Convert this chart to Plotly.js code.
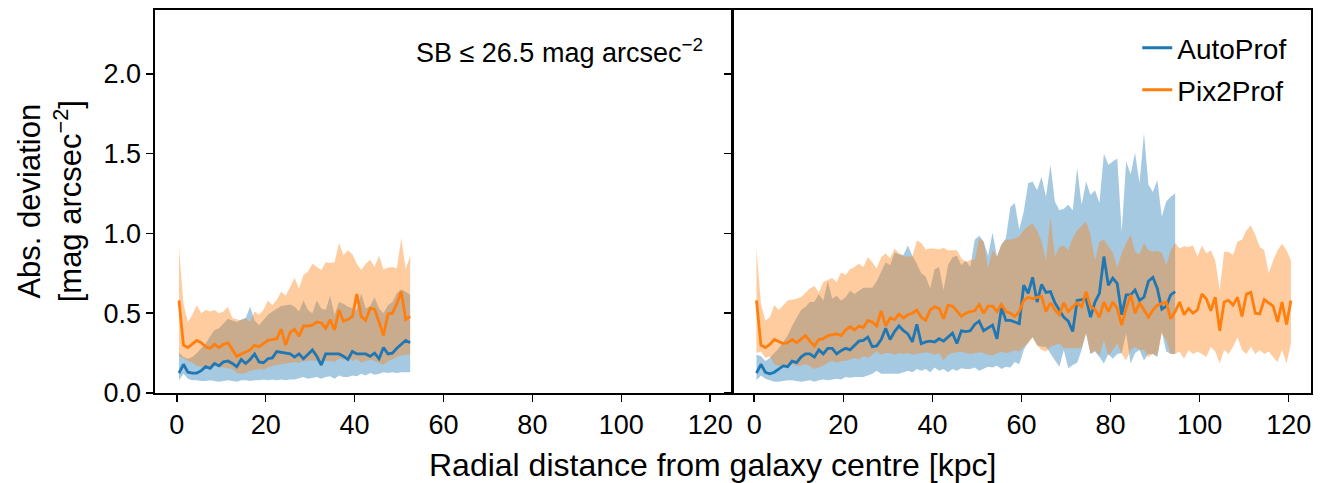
<!DOCTYPE html>
<html>
<head>
<meta charset="utf-8">
<script src="https://cdn.plot.ly/plotly-3.0.1.min.js"></script>
<style>html,body{margin:0;padding:0;background:#fff;}#chart{width:1324px;height:483px;}</style>
</head>
<body>
<div id="chart"></div>
<script>
// Radial bins [kpc]
const radius = [0.5,1.5,2.5,3.5,4.5,5.5,6.5,7.5,8.5,9.5,10.5,11.5,12.5,13.5,14.5,15.5,16.5,17.5,18.5,19.5,
20.5,21.5,22.5,23.5,24.5,25.5,26.5,27.5,28.5,29.5,30.5,31.5,32.5,33.5,34.5,35.5,36.5,37.5,38.5,39.5,
40.5,41.5,42.5,43.5,44.5,45.5,46.5,47.5,48.5,49.5,50.5,51.5,52.5,53.5,54.5,55.5,56.5,57.5,58.5,59.5,
60.5,61.5,62.5,63.5,64.5,65.5,66.5,67.5,68.5,69.5,70.5,71.5,72.5,73.5,74.5,75.5,76.5,77.5,78.5,79.5,
80.5,81.5,82.5,83.5,84.5,85.5,86.5,87.5,88.5,89.5,90.5,91.5,92.5,93.5,94.5,95.5,96.5,97.5,98.5,99.5,
100.5,101.5,102.5,103.5,104.5,105.5,106.5,107.5,108.5,109.5,110.5,111.5,112.5,113.5,114.5,115.5,116.5,117.5,118.5,119.5,120.5];

// ---- Left panel: SB <= 26.5 mag arcsec^-2 (53 bins) ----
const autoMedL = [0.125,0.18,0.13,0.125,0.125,0.14,0.165,0.155,0.185,0.17,0.195,0.20,0.185,0.165,0.21,0.185,0.21,0.245,0.195,0.19,0.215,0.22,0.26,0.255,0.25,0.245,
0.225,0.245,0.215,0.245,0.27,0.23,0.175,0.245,0.245,0.245,0.245,0.23,0.21,0.26,0.245,0.245,0.245,0.23,0.25,0.215,0.285,0.245,0.25,0.28,0.305,0.33,0.315];
const autoHiL = [0.25,0.225,0.215,0.225,0.25,0.28,0.31,0.355,0.395,0.405,0.435,0.465,0.455,0.445,0.46,0.47,0.54,0.455,0.425,0.46,0.49,0.51,0.525,0.545,0.55,0.555,
0.54,0.51,0.58,0.52,0.50,0.58,0.53,0.52,0.61,0.49,0.57,0.56,0.54,0.53,0.52,0.625,0.53,0.545,0.60,0.53,0.50,0.55,0.57,0.625,0.65,0.635,0.615];
const autoLoL = [0.08,0.12,0.09,0.08,0.08,0.075,0.075,0.08,0.075,0.07,0.075,0.08,0.075,0.07,0.08,0.08,0.075,0.08,0.08,0.085,0.08,0.085,0.08,0.085,0.08,0.085,
0.085,0.09,0.10,0.09,0.095,0.10,0.09,0.10,0.105,0.09,0.11,0.10,0.10,0.11,0.105,0.12,0.11,0.125,0.115,0.12,0.13,0.125,0.13,0.125,0.13,0.13,0.13];
const pixMedL = [0.58,0.30,0.285,0.31,0.33,0.315,0.29,0.28,0.305,0.285,0.305,0.315,0.27,0.23,0.245,0.26,0.27,0.30,0.29,0.31,0.33,0.335,0.34,0.40,0.30,0.38,
0.40,0.355,0.42,0.42,0.425,0.445,0.44,0.405,0.46,0.395,0.52,0.45,0.46,0.48,0.62,0.48,0.455,0.53,0.525,0.445,0.36,0.495,0.50,0.56,0.635,0.46,0.48];
const pixHiL = [0.906,0.56,0.445,0.49,0.55,0.50,0.52,0.51,0.52,0.50,0.51,0.54,0.47,0.46,0.455,0.47,0.445,0.51,0.49,0.52,0.58,0.55,0.585,0.635,0.61,0.665,
0.72,0.655,0.74,0.76,0.81,0.79,0.77,0.82,0.815,0.82,0.94,0.865,0.895,0.87,0.81,0.77,0.81,0.835,0.79,0.86,0.775,0.785,0.79,0.78,0.97,0.775,0.86];
const pixLoL = [0.23,0.22,0.20,0.19,0.17,0.165,0.16,0.165,0.17,0.165,0.16,0.155,0.15,0.125,0.12,0.125,0.14,0.145,0.15,0.145,0.16,0.17,0.175,0.18,0.185,0.19,
0.195,0.19,0.20,0.20,0.205,0.20,0.195,0.20,0.20,0.195,0.215,0.21,0.22,0.20,0.215,0.19,0.20,0.21,0.20,0.19,0.175,0.20,0.21,0.225,0.235,0.24,0.24];

// ---- Right panel: full depth (AutoProf 95 bins, Pix2Prof 121 bins) ----
const autoMedR = [0.125,0.18,0.13,0.12,0.13,0.15,0.17,0.165,0.20,0.19,0.225,0.245,0.245,0.225,0.27,0.245,0.28,0.28,0.245,0.265,0.28,0.27,0.295,0.325,0.33,0.35,0.29,0.295,0.335,0.405,0.335,0.385,0.42,
0.39,0.37,0.32,0.43,0.31,0.32,0.325,0.32,0.34,0.325,0.35,0.375,0.31,0.39,0.385,0.39,0.43,0.45,0.39,0.41,0.425,0.34,0.535,0.455,0.455,0.445,0.435,0.675,0.625,0.725,0.57,0.68,
0.63,0.635,0.565,0.52,0.475,0.45,0.385,0.58,0.585,0.59,0.475,0.57,0.625,0.855,0.675,0.72,0.685,0.49,0.615,0.615,0.645,0.58,0.60,0.70,0.725,0.655,0.525,0.545,0.615,0.635];
const autoHiR = [0.24,0.23,0.20,0.22,0.25,0.28,0.32,0.36,0.42,0.47,0.52,0.54,0.57,0.57,0.62,0.58,0.70,0.59,0.61,0.58,0.60,0.64,0.62,0.64,0.66,0.66,0.66,0.70,0.76,0.82,0.80,0.88,0.87,
0.865,0.925,0.86,0.81,0.75,0.73,0.655,0.775,0.79,0.645,0.80,0.85,0.86,0.80,0.83,0.79,0.96,0.985,0.95,0.86,1.005,0.855,0.93,0.97,1.165,1.19,1.025,1.135,1.315,1.325,1.27,1.355,
1.23,1.43,1.20,1.145,1.155,1.18,1.145,1.41,1.18,1.325,1.24,1.27,1.19,1.50,1.43,1.45,1.47,1.01,1.45,1.37,1.505,1.315,1.63,1.305,1.26,1.335,1.105,1.20,1.23,1.25];
const autoLoR = [0.08,0.11,0.09,0.08,0.07,0.07,0.075,0.08,0.08,0.075,0.07,0.075,0.08,0.07,0.08,0.085,0.08,0.085,0.09,0.085,0.10,0.095,0.10,0.10,0.10,0.11,0.12,0.14,0.12,0.12,0.12,0.12,0.12,
0.13,0.14,0.13,0.15,0.14,0.15,0.13,0.16,0.14,0.15,0.13,0.15,0.14,0.155,0.15,0.15,0.16,0.14,0.15,0.165,0.16,0.17,0.15,0.165,0.16,0.195,0.18,0.27,0.32,0.35,0.30,0.29,
0.29,0.245,0.205,0.165,0.27,0.155,0.175,0.19,0.27,0.375,0.245,0.26,0.225,0.185,0.245,0.215,0.245,0.25,0.375,0.185,0.25,0.27,0.205,0.245,0.245,0.225,0.385,0.26,0.245,0.245];
const pixMedR = [0.58,0.30,0.285,0.305,0.335,0.32,0.31,0.315,0.335,0.315,0.34,0.36,0.325,0.295,0.335,0.34,0.36,0.365,0.37,0.36,0.395,0.415,0.395,0.42,0.41,0.455,0.445,0.42,0.515,0.42,0.47,0.46,0.495,
0.47,0.49,0.50,0.52,0.475,0.455,0.52,0.54,0.53,0.465,0.55,0.545,0.515,0.48,0.50,0.51,0.515,0.555,0.50,0.545,0.545,0.51,0.555,0.51,0.50,0.48,0.51,0.58,0.60,0.59,0.60,0.605,
0.51,0.565,0.52,0.49,0.565,0.51,0.54,0.565,0.54,0.635,0.54,0.525,0.475,0.57,0.51,0.57,0.53,0.425,0.53,0.615,0.50,0.565,0.52,0.475,0.52,0.55,0.56,0.57,0.465,0.51,
0.57,0.49,0.53,0.50,0.52,0.62,0.59,0.515,0.60,0.39,0.57,0.58,0.55,0.60,0.48,0.62,0.63,0.50,0.495,0.585,0.565,0.545,0.445,0.57,0.43,0.58];
const pixHiR = [0.905,0.56,0.455,0.475,0.55,0.52,0.55,0.58,0.585,0.59,0.60,0.625,0.655,0.67,0.63,0.695,0.71,0.72,0.695,0.755,0.74,0.775,0.79,0.81,0.79,0.85,0.82,0.78,0.85,0.875,0.845,0.905,0.875,
0.855,0.855,0.855,0.955,0.94,0.90,0.905,0.905,0.90,0.91,0.895,0.895,0.895,0.845,0.82,0.835,0.835,0.97,0.95,0.78,0.895,0.855,0.93,0.96,0.96,0.97,0.98,1.02,1.045,1.06,1.02,0.95,
0.83,1.105,0.855,0.915,0.925,0.895,0.97,1.02,1.05,1.075,0.99,0.83,0.95,0.96,0.92,0.88,0.79,0.875,0.94,0.99,0.885,0.87,0.94,0.895,0.885,0.89,0.88,0.80,0.895,0.94,
0.905,0.92,0.915,0.925,0.855,0.925,0.875,0.895,0.83,0.645,0.885,0.885,0.865,0.95,0.96,1.02,1.05,0.99,0.915,0.895,0.75,0.83,0.895,0.935,0.895,0.83];
const pixLoR = [0.25,0.26,0.22,0.23,0.18,0.17,0.17,0.17,0.18,0.17,0.17,0.18,0.17,0.15,0.16,0.17,0.19,0.20,0.19,0.20,0.20,0.21,0.22,0.21,0.23,0.22,0.24,0.26,0.24,0.25,0.25,0.24,0.25,
0.245,0.25,0.24,0.245,0.25,0.255,0.25,0.24,0.25,0.205,0.24,0.25,0.255,0.26,0.25,0.245,0.25,0.255,0.25,0.24,0.235,0.245,0.26,0.25,0.255,0.27,0.26,0.29,0.31,0.35,0.30,0.27,
0.26,0.29,0.30,0.31,0.28,0.28,0.28,0.28,0.285,0.375,0.245,0.27,0.235,0.33,0.235,0.27,0.31,0.245,0.205,0.27,0.29,0.27,0.27,0.225,0.245,0.235,0.375,0.33,0.245,0.245,
0.26,0.215,0.27,0.245,0.26,0.245,0.225,0.29,0.26,0.185,0.27,0.245,0.29,0.35,0.27,0.245,0.29,0.245,0.27,0.245,0.26,0.225,0.195,0.27,0.185,0.31];

const xTicks = [0,20,40,60,80,100,120];
const yTicks = [0.0,0.5,1.0,1.5,2.0];
const seriesNames = ['AutoProf','Pix2Prof'];

const BLUE = '#1f77b4', ORANGE = '#ff7f0e';
const BLUE_F = 'rgba(31,119,180,0.4)', ORANGE_F = 'rgba(255,127,14,0.4)';

function band(xs, hi, lo, fill, xa, ya) {
  const r = xs.slice(0, hi.length);
  return {
    x: r.concat(r.slice().reverse()),
    y: hi.concat(lo.slice().reverse()),
    fill: 'toself', fillcolor: fill, mode: 'lines', line: {width: 0, color: fill},
    xaxis: xa, yaxis: ya, showlegend: false, hoverinfo: 'skip'
  };
}
function line(xs, ys, color, xa, ya, name, legendId) {
  const t = {
    x: xs.slice(0, ys.length), y: ys, mode: 'lines', line: {color: color, width: 2.8},
    xaxis: xa, yaxis: ya, name: name, showlegend: !!legendId
  };
  if (legendId) t.legend = legendId;
  return t;
}

const data = [
  band(radius, autoHiL, autoLoL, BLUE_F, 'x', 'y'),
  band(radius, pixHiL, pixLoL, ORANGE_F, 'x', 'y'),
  band(radius, autoHiR, autoLoR, BLUE_F, 'x2', 'y2'),
  band(radius, pixHiR, pixLoR, ORANGE_F, 'x2', 'y2'),
  line(radius, autoMedL, BLUE, 'x', 'y', seriesNames[0], null),
  line(radius, pixMedL, ORANGE, 'x', 'y', seriesNames[1], null),
  line(radius, autoMedR, BLUE, 'x2', 'y2', seriesNames[0], 'legend'),
  line(radius, pixMedR, ORANGE, 'x2', 'y2', seriesNames[1], 'legend2')
];

const FONT = 'Liberation Sans, Arial, sans-serif';
const axBase = {
  showgrid: false, zeroline: false, showline: true, linecolor: '#000', linewidth: 1.6,
  mirror: true, ticks: 'outside', ticklen: 7, tickwidth: 1.5, tickcolor: '#000',
  tickfont: {family: FONT, size: 27, color: '#000'}
};
const xRange = [-4.9, 125.0];
const yRange = [0, 2.4];
const legFont = {family: FONT, size: 28, color: '#000'};

const layout = {
  width: 1324, height: 483,
  margin: {l: 155, r: 13.3, t: 10, b: 90.3},
  paper_bgcolor: '#fff', plot_bgcolor: '#fff',
  font: {family: FONT, color: '#000'},
  xaxis: Object.assign({}, axBase, {domain: [0, 0.4995], range: xRange, tickvals: xTicks, ticktext: xTicks.map(String), anchor: 'y'}),
  xaxis2: Object.assign({}, axBase, {domain: [0.4995, 1], range: xRange, tickvals: xTicks, ticktext: xTicks.map(String), anchor: 'y2'}),
  yaxis: Object.assign({}, axBase, {domain: [0, 1], range: yRange, tickvals: yTicks, ticktext: yTicks.map(v => v.toFixed(1)), anchor: 'x'}),
  yaxis2: Object.assign({}, axBase, {domain: [0, 1], range: yRange, tickvals: yTicks, showticklabels: false, anchor: 'x2'}),
  showlegend: true,
  legend: {x: 0.8497, y: 0.9007, xanchor: 'left', yanchor: 'middle', bgcolor: 'rgba(0,0,0,0)', font: legFont},
  legend2: {x: 0.8497, y: 0.791, xanchor: 'left', yanchor: 'middle', bgcolor: 'rgba(0,0,0,0)', font: legFont},
  annotations: [
    {text: 'SB ≤ 26.5 mag arcsec<sup>−2</sup>', xref: 'paper', yref: 'paper', x: 0.476, y: 0.893,
     xanchor: 'right', yanchor: 'middle', showarrow: false, font: {family: FONT, size: 27, color: '#000'}},
    {text: 'Radial distance from galaxy centre [kpc]', xref: 'paper', yref: 'paper', x: 0.482, y: -0.189,
     xanchor: 'center', yanchor: 'middle', showarrow: false, font: {family: FONT, size: 32, color: '#000'}},
    {text: 'Abs. deviation<br>[mag arcsec<sup>−2</sup>]', xref: 'paper', yref: 'paper', x: -0.091, y: 0.5,
     xanchor: 'center', yanchor: 'middle', textangle: -90, showarrow: false, font: {family: FONT, size: 31, color: '#000'}}
  ]
};

Plotly.newPlot('chart', data, layout, {staticPlot: true, displayModeBar: false});
</script>
</body>
</html>
